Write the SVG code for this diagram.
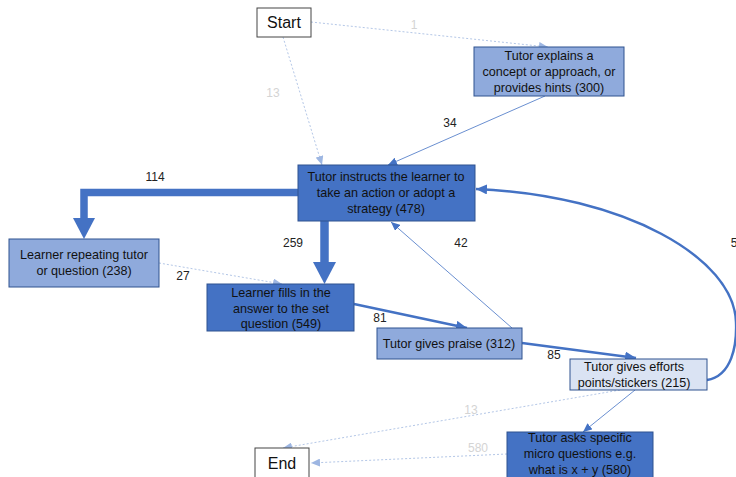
<svg xmlns="http://www.w3.org/2000/svg" width="736" height="477" viewBox="0 0 736 477">
<style>
.t{font-family:"Liberation Sans",Arial,sans-serif;font-size:12.6px;fill:#111;text-anchor:middle}
.big{font-size:16px}
.lbl{font-family:"Liberation Sans",Arial,sans-serif;font-size:12px;fill:#222;text-anchor:middle}
.lg{fill:#d4d4d4}
.dark{fill:#4472c4;stroke:#2f528f;stroke-width:1}
.mid{fill:#8faadc;stroke:#2f528f;stroke-width:1}
.pale{fill:#dae3f3;stroke:#2f528f;stroke-width:1}
.wht{fill:#fff;stroke:#444;stroke-width:1}
.c{fill:none;stroke:#4472c4}
.dash{fill:none;stroke:#b4c7e7;stroke-width:1;stroke-dasharray:2 2}
</style>
<defs>
<marker id="a" markerUnits="userSpaceOnUse" markerWidth="10" markerHeight="8" refX="9" refY="4" orient="auto"><path d="M0,0 L9,4 L0,8 Z" fill="#4472c4"/></marker>
<marker id="al" markerUnits="userSpaceOnUse" markerWidth="10" markerHeight="8" refX="9" refY="4" orient="auto"><path d="M0,0 L9,4 L0,8 Z" fill="#9db6e2"/></marker>
<marker id="ab" markerUnits="userSpaceOnUse" markerWidth="12" markerHeight="10" refX="11" refY="5" orient="auto"><path d="M0,0 L11,5 L0,10 Z" fill="#4472c4"/></marker>
</defs>
<g id="connectors">
<line class="dash" x1="311" y1="22" x2="548" y2="47" marker-end="url(#al)"/>
<line class="dash" x1="283" y1="37" x2="322" y2="165" marker-end="url(#al)"/>
<line class="c" stroke-width="0.8" x1="545" y1="96" x2="388" y2="165" marker-end="url(#a)"/>
<path d="M298,192.5 H84 V219" fill="none" stroke="#4472c4" stroke-width="7.5"/>
<path d="M73,218 L95,218 L84,239 Z" fill="#4472c4"/>
<path d="M324.5,221 V263" fill="none" stroke="#4472c4" stroke-width="8.5"/>
<path d="M313,262 L336,262 L324.5,284 Z" fill="#4472c4"/>
<line class="dash" x1="159" y1="263" x2="282" y2="284" marker-end="url(#al)"/>
<line class="c" stroke-width="2.5" x1="354" y1="304" x2="467" y2="328" marker-end="url(#ab)"/>
<line class="c" stroke-width="0.8" x1="512" y1="328" x2="391" y2="222" marker-end="url(#a)"/>
<line class="c" stroke-width="2.5" x1="522" y1="343" x2="636" y2="358" marker-end="url(#ab)"/>
<path class="c" stroke-width="2.5" d="M707,380 C732,376 737,345 736,322 C734,258 625,195 476,189" marker-end="url(#ab)"/>
<line class="dash" x1="620" y1="390" x2="283" y2="448" marker-end="url(#al)"/>
<line class="c" stroke-width="0.8" x1="635" y1="390" x2="583" y2="432" marker-end="url(#a)"/>
<line class="dash" x1="507" y1="454" x2="311" y2="463" marker-end="url(#al)"/>
<text class="lbl lg" x="414" y="29">1</text>
<text class="lbl lg" x="273" y="97">13</text>
<text class="lbl" x="450" y="127">34</text>
<text class="lbl" x="155" y="181">114</text>
<text class="lbl" x="293" y="247">259</text>
<text class="lbl" x="461" y="247">42</text>
<text class="lbl" x="734" y="247">5</text>
<text class="lbl" x="183" y="280">27</text>
<text class="lbl" x="380" y="322">81</text>
<text class="lbl" x="554" y="359">85</text>
<text class="lbl lg" x="471" y="414">13</text>
<text class="lbl lg" x="478" y="452">580</text>
</g>
<g id="start"><rect class="wht" x="257" y="8" width="54" height="29"/><text class="t big" x="284" y="28">Start</text></g>
<g id="explains"><rect class="mid" x="474" y="47" width="150" height="49"/>
<text class="t" x="549" y="60">Tutor explains a</text><text class="t" x="549" y="76">concept or approach, or</text><text class="t" x="549" y="92">provides hints (300)</text></g>
<g id="instructs"><rect class="dark" x="298" y="165" width="177" height="56"/>
<text class="t" x="386" y="181">Tutor instructs the learner to</text><text class="t" x="386" y="197">take an action or adopt a</text><text class="t" x="386" y="213">strategy (478)</text></g>
<g id="repeating"><rect class="mid" x="9" y="239" width="150" height="48"/>
<text class="t" x="84" y="259">Learner repeating tutor</text><text class="t" x="84" y="275">or question (238)</text></g>
<g id="fills"><rect class="dark" x="207" y="284" width="147" height="47"/>
<text class="t" x="281" y="297">Learner fills in the</text><text class="t" x="281" y="313">answer to the set</text><text class="t" x="281" y="328">question (549)</text></g>
<g id="praise"><rect class="mid" x="377" y="328" width="145" height="31"/>
<text class="t" x="449" y="348">Tutor gives praise (312)</text></g>
<g id="efforts"><rect class="pale" x="570" y="359" width="137" height="31"/>
<text class="t" x="634" y="371">Tutor gives efforts</text><text class="t" x="634" y="387">points/stickers (215)</text></g>
<g id="asks"><rect class="dark" x="507" y="432" width="146" height="50"/>
<text class="t" x="580" y="442">Tutor asks specific</text><text class="t" x="580" y="458">micro questions e.g.</text><text class="t" x="580" y="474">what is x + y (580)</text></g>
<g id="end"><rect class="wht" x="255" y="448" width="54" height="35"/><text class="t big" x="282" y="469">End</text></g>
</svg>
